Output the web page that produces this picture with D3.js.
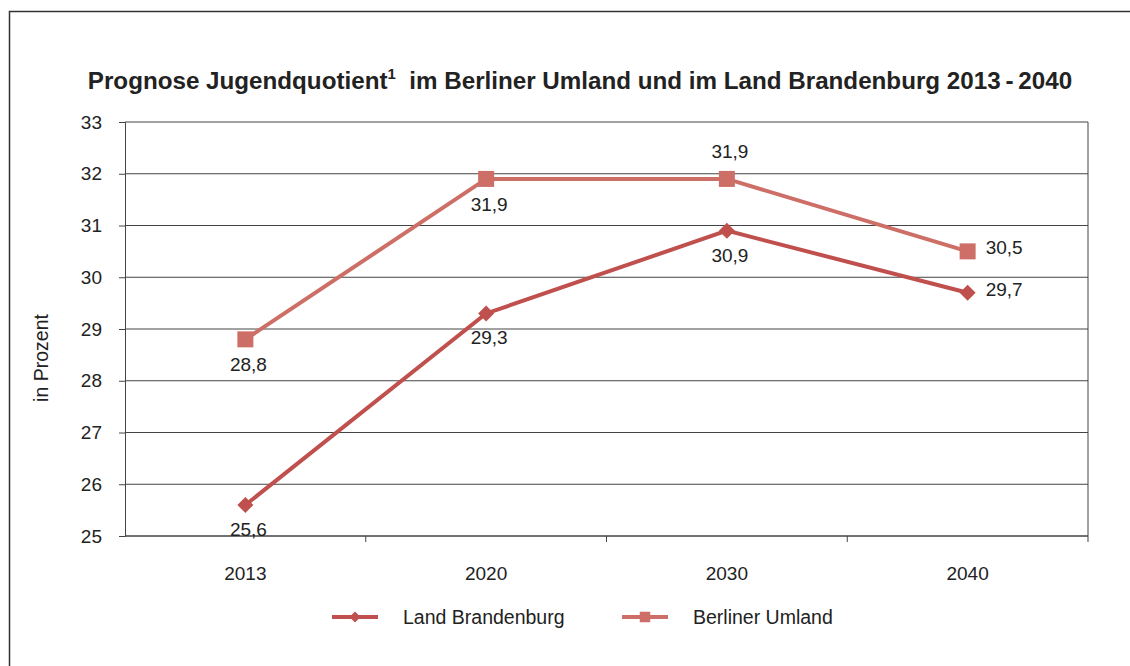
<!DOCTYPE html>
<html>
<head>
<meta charset="utf-8">
<script src="https://cdn.jsdelivr.net/npm/d3@7"></script>
<style>
  body { margin: 0; background: #fff; }
  svg { font-family: "Liberation Sans", Arial, sans-serif; }
</style>
</head>
<body>
<svg id="chart" width="1130" height="666"></svg>
<script>
const years = ["2013", "2020", "2030", "2040"];
const brandenburg = [25.6, 29.3, 30.9, 29.7];
const umland = [28.8, 31.9, 31.9, 30.5];
const yTicks = [25, 26, 27, 28, 29, 30, 31, 32, 33];

// label placement per point: b = below, a = above, r = right
const brbPos = ["b", "b", "b", "r"];
const umlPos = ["b", "b", "a", "r"];

const colBrb = "#c0504d";
const colUml = "#cd6f67";
const txt = "#222";

const svg = d3.select("#chart");
const margin = { top: 122, right: 42, bottom: 130, left: 125 };
const width = 1130 - margin.left - margin.right;
const height = 666 - margin.top - margin.bottom;

// outer frame
svg.append("path")
  .attr("d", "M9.5,666 V11.5 H1130")
  .attr("fill", "none")
  .attr("stroke", "#333")
  .attr("stroke-width", 1.5);

svg.append("text")
  .attr("x", 580)
  .attr("y", 89)
  .attr("text-anchor", "middle")
  .attr("font-size", 24.2)
  .attr("font-weight", "bold")
  .attr("fill", txt)
  .call(t => {
    t.append("tspan").text("Prognose Jugendquotient");
    t.append("tspan").attr("font-size", 15).attr("dy", -10).text("1");
    t.append("tspan").attr("dy", 10).text("\u00a0 im Berliner Umland und im Land Brandenburg 2013\u2009-\u20092040");
  });

const g = svg.append("g")
  .attr("transform", "translate(" + margin.left + "," + margin.top + ")");

const x = d3.scaleBand().domain(years).range([0, width]);
const y = d3.scaleLinear().domain([25, 33]).range([height, 0]);

// grid
g.append("g")
  .selectAll("line")
  .data(yTicks)
  .join("line")
  .attr("x1", 0)
  .attr("x2", width)
  .attr("y1", d => y(d))
  .attr("y2", d => y(d))
  .attr("stroke", "#444")
  .attr("stroke-width", 1);

// right border
g.append("line")
  .attr("x1", width).attr("x2", width)
  .attr("y1", 0).attr("y2", height)
  .attr("stroke", "#444");

// y axis
const yAxis = g.append("g")
  .call(d3.axisLeft(y).tickValues(yTicks).tickSize(6).tickPadding(17).tickFormat(d => d));
yAxis.select(".domain").attr("stroke", "#444");
yAxis.selectAll(".tick line").attr("stroke", "#444");
yAxis.selectAll("text").attr("font-size", 19).attr("fill", txt)
  .attr("font-family", "Liberation Sans, Arial, sans-serif");

// x axis, ticks at category boundaries
const xAxis = g.append("g")
  .attr("transform", "translate(0," + height + ")");
xAxis.append("line")
  .attr("x1", 0).attr("x2", width)
  .attr("stroke", "#444");
xAxis.selectAll(".bnd")
  .data(years.slice(1))
  .join("line")
  .attr("x1", d => x(d)).attr("x2", d => x(d))
  .attr("y1", 0).attr("y2", 6)
  .attr("stroke", "#444");
xAxis.append("line")
  .attr("x1", width).attr("x2", width)
  .attr("y1", 0).attr("y2", 6)
  .attr("stroke", "#444");
xAxis.selectAll(".lab")
  .data(years)
  .join("text")
  .attr("x", d => x(d) + x.bandwidth() / 2)
  .attr("y", 44)
  .attr("text-anchor", "middle")
  .attr("font-size", 19)
  .attr("fill", txt)
  .text(d => d);

// y title
svg.append("text")
  .attr("transform", "translate(48,358) rotate(-90)")
  .attr("text-anchor", "middle")
  .attr("font-size", 19.5)
  .attr("fill", txt)
  .text("in Prozent");

const cx = d => x(d) + x.bandwidth() / 2;
const line = d3.line()
  .x((d, i) => cx(years[i]))
  .y(d => y(d));

function drawSeries(vals, color, symbol, size, rot, pos, below) {
  g.append("path")
    .datum(vals)
    .attr("d", line)
    .attr("fill", "none")
    .attr("stroke", color)
    .attr("stroke-width", 4);
  g.selectAll(null)
    .data(vals)
    .join("path")
    .attr("transform", (d, i) => "translate(" + cx(years[i]) + "," + y(d) + ") rotate(" + rot + ")")
    .attr("d", d3.symbol().type(symbol).size(size))
    .attr("fill", color);
  g.selectAll(null)
    .data(vals)
    .join("text")
    .attr("x", (d, i) => pos[i] === "r" ? cx(years[i]) + 18 : cx(years[i]) + 3)
    .attr("y", (d, i) => pos[i] === "b" ? y(d) + below : pos[i] === "a" ? y(d) - 21 : y(d) + 3)
    .attr("text-anchor", (d, i) => pos[i] === "r" ? "start" : "middle")
    .attr("font-size", 19)
    .attr("fill", txt)
    .text(d => d3.format(".1f")(d).replace(".", ","));
}

drawSeries(umland, colUml, d3.symbolSquare, 256, 0, umlPos, 32);
drawSeries(brandenburg, colBrb, d3.symbolSquare, 128, 45, brbPos, 31);

// legend
const legend = [
  { name: "Land Brandenburg", color: colBrb, size: 60, rot: 45, x: 332 },
  { name: "Berliner Umland", color: colUml, size: 110, rot: 0, x: 622 }
];
const lg = svg.append("g").attr("transform", "translate(0,617)");
legend.forEach(l => {
  lg.append("line")
    .attr("x1", l.x).attr("x2", l.x + 46)
    .attr("stroke", l.color).attr("stroke-width", 4);
  lg.append("path")
    .attr("transform", "translate(" + (l.x + 23) + ",0) rotate(" + l.rot + ")")
    .attr("d", d3.symbol().type(d3.symbolSquare).size(l.size))
    .attr("fill", l.color);
  lg.append("text")
    .attr("x", l.x + 71)
    .attr("y", 7)
    .attr("font-size", 19.5)
    .attr("fill", txt)
    .text(l.name);
});
</script>
</body>
</html>
